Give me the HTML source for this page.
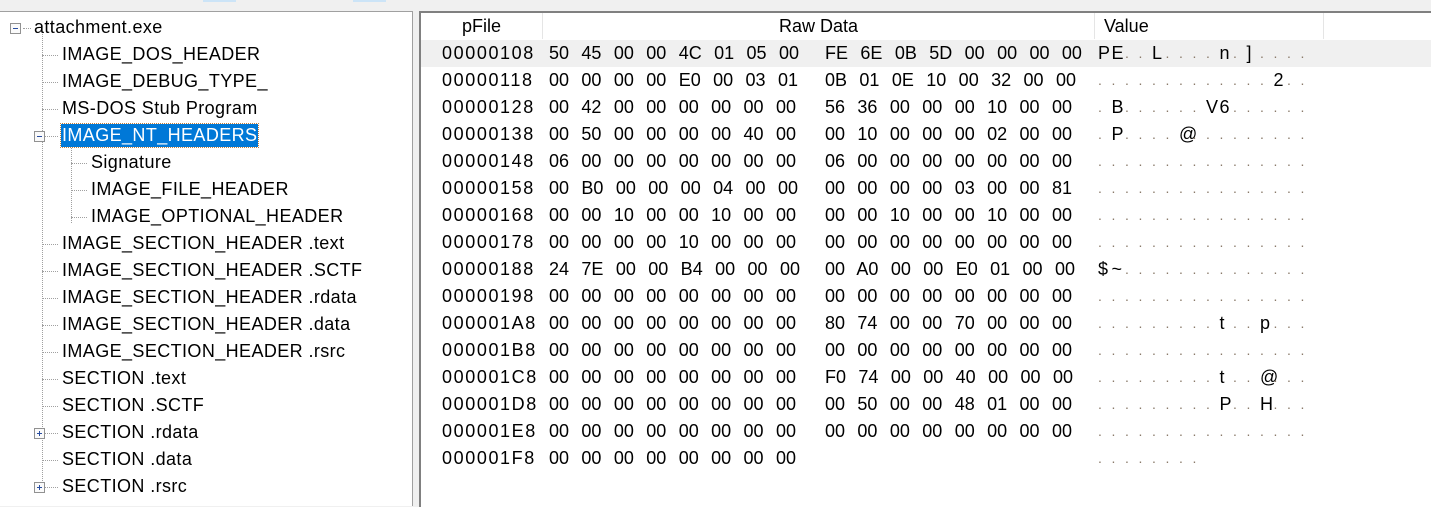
<!DOCTYPE html>
<html><head><meta charset="utf-8">
<style>
html,body{margin:0;padding:0;width:1431px;height:505px;overflow:hidden;background:#f0f0f0;font-family:"Liberation Sans",sans-serif;color:#000}
.abs{position:absolute}
#left{position:absolute;left:0;top:11px;width:412px;height:494px;background:#fff;border-top:1px solid #a0a0a0;border-right:1px solid #a0a0a0}
#right{position:absolute;left:419px;top:11px;width:1012px;height:494px;background:#fff;border-top:2px solid #808080;border-left:2px solid #808080}
.t{position:absolute;font-size:18px;letter-spacing:0.4px;white-space:pre;line-height:27px;height:27px}
.box{position:absolute;width:9px;height:9px;border:1px solid #919191;background:#fafafa}
.box:before{content:"";position:absolute;left:2px;top:4px;width:5px;height:1px;background:#2a4ea0}
.box.plus:after{content:"";position:absolute;left:4px;top:2px;width:1px;height:5px;background:#2a4ea0}
.hd{position:absolute;top:0;height:26px;line-height:26px;font-size:18px;border-right:1px solid #e5e5e5;text-align:center}
.cell{position:absolute;font-size:18px;line-height:27px;white-space:pre;letter-spacing:0}
.grp{word-spacing:7.4px}
.dot{color:#8a7a6a}
</style></head><body>
<div class="abs" style="left:0;top:0;width:1431px;height:10px;background:#f0f0f0">
  <div class="abs" style="left:203px;top:0;width:33px;height:2px;background:#cce4f7"></div>
  <div class="abs" style="left:353px;top:0;width:33px;height:2px;background:#cce4f7"></div>
</div>
<div id="left"></div>
<div id="right">
  <div class="hd" style="left:0;width:121px">pFile</div>
  <div class="hd" style="left:122px;width:551px">Raw Data</div>
  <div class="hd" style="left:674px;width:229px;text-align:left;padding-left:9px;box-sizing:border-box">Value</div>
</div>
<script>
const treeItems=[
 [0,"attachment.exe","minus"],[1,"IMAGE_DOS_HEADER",""],[1,"IMAGE_DEBUG_TYPE_",""],[1,"MS-DOS Stub Program",""],
 [1,"IMAGE_NT_HEADERS","minus"],[2,"Signature",""],[2,"IMAGE_FILE_HEADER",""],[2,"IMAGE_OPTIONAL_HEADER",""],
 [1,"IMAGE_SECTION_HEADER .text",""],[1,"IMAGE_SECTION_HEADER .SCTF",""],[1,"IMAGE_SECTION_HEADER .rdata",""],
 [1,"IMAGE_SECTION_HEADER .data",""],[1,"IMAGE_SECTION_HEADER .rsrc",""],[1,"SECTION .text",""],[1,"SECTION .SCTF",""],
 [1,"SECTION .rdata","plus"],[1,"SECTION .data",""],[1,"SECTION .rsrc","plus"]];
const left=document.getElementById('left');
const textX=[34,62,91];
function vline(x,y1,y2){const d=document.createElement('div');d.className='abs';d.style.cssText=`left:${x}px;top:${y1}px;width:0;height:${y2-y1}px;border-left:1px dotted #a0a0a0`;


left.appendChild(d);}
vline(42,22,475);vline(71,130,211);
treeItems.forEach((it,i)=>{
 const cy=16+27*i;
 const lvl=it[0];
 if(lvl>0){const h=document.createElement('div');h.className='abs';h.style.cssText=`left:${textX[lvl]-20}px;top:${cy}px;width:16px;height:0;border-top:1px dotted #a0a0a0`;
  
  
  left.appendChild(h);}
 else {const h=document.createElement('div');h.className='abs';h.style.cssText=`left:23px;top:${cy}px;width:8px;height:0;border-top:1px dotted #a0a0a0`;left.appendChild(h);}
 if(it[2]){const b=document.createElement('div');b.className='box'+(it[2]=='plus'?' plus':'');
  b.style.left=(lvl==0?10:textX[lvl]-28)+'px';b.style.top=(cy-5)+'px';
  
  
  left.appendChild(b);}
 const t=document.createElement('div');t.className='t';t.textContent=it[1];
 t.style.left=textX[lvl]+'px';t.style.top=(cy-14)+'px';
 if(it[1]=="IMAGE_NT_HEADERS"){t.style.background='#0078d7';t.style.color='#fff';t.style.outline='1px dotted #c08040';t.style.lineHeight='23px';t.style.height='23px';t.style.top=(cy-12)+'px';t.style.padding='0 1px';t.style.left=(textX[lvl]-1)+'px';}
 
 
 left.appendChild(t);
});
const offsets=["00000108","00000118","00000128","00000138","00000148","00000158","00000168","00000178","00000188","00000198","000001A8","000001B8","000001C8","000001D8","000001E8","000001F8"];
const bytes=[
"50 45 00 00 4C 01 05 00 FE 6E 0B 5D 00 00 00 00",
"00 00 00 00 E0 00 03 01 0B 01 0E 10 00 32 00 00",
"00 42 00 00 00 00 00 00 56 36 00 00 00 10 00 00",
"00 50 00 00 00 00 40 00 00 10 00 00 00 02 00 00",
"06 00 00 00 00 00 00 00 06 00 00 00 00 00 00 00",
"00 B0 00 00 00 04 00 00 00 00 00 00 03 00 00 81",
"00 00 10 00 00 10 00 00 00 00 10 00 00 10 00 00",
"00 00 00 00 10 00 00 00 00 00 00 00 00 00 00 00",
"24 7E 00 00 B4 00 00 00 00 A0 00 00 E0 01 00 00",
"00 00 00 00 00 00 00 00 00 00 00 00 00 00 00 00",
"00 00 00 00 00 00 00 00 80 74 00 00 70 00 00 00",
"00 00 00 00 00 00 00 00 00 00 00 00 00 00 00 00",
"00 00 00 00 00 00 00 00 F0 74 00 00 40 00 00 00",
"00 00 00 00 00 00 00 00 00 50 00 00 48 01 00 00",
"00 00 00 00 00 00 00 00 00 00 00 00 00 00 00 00",
"00 00 00 00 00 00 00 00"];
const right=document.getElementById('right');
offsets.forEach((off,r)=>{
 const top=27+27*r;
 const row=document.createElement('div');row.className='abs';
 row.style.cssText=`left:0;top:${top}px;width:1012px;height:27px;${r==0?'background:#f0f0f0':''}`;
 
 
 right.appendChild(row);
 const o=document.createElement('div');o.className='cell';o.textContent=off;o.style.left='21px';o.style.top='0';o.style.letterSpacing='1.6px';
 
 
 row.appendChild(o);
 const bs=bytes[r].split(' ');
 const g1=document.createElement('div');g1.className='cell grp';g1.textContent=bs.slice(0,8).join(' ');
 g1.style.left=(549-421)+'px';g1.style.top='0';
 
 
 row.appendChild(g1);
 if(bs.length>8){
  const g2=document.createElement('div');g2.className='cell grp';g2.textContent=bs.slice(8).join(' ');
  g2.style.left=(825-421)+'px';g2.style.top='0';
  
  
  row.appendChild(g2);
 }
 bs.forEach((b,i)=>{
  const v=parseInt(b,16);const ch=(v>=0x21&&v<0x7f)?String.fromCharCode(v):'.';
  const s=document.createElement('div');s.className='cell'+(ch=='.'?' dot':'');s.textContent=ch;
  s.style.left=(1098+i*13.5-421)+'px';s.style.top='0';
  if(ch=='.')s.style.fontSize='14px';
  
  
  row.appendChild(s);
 });
});
</script>
</body></html>
